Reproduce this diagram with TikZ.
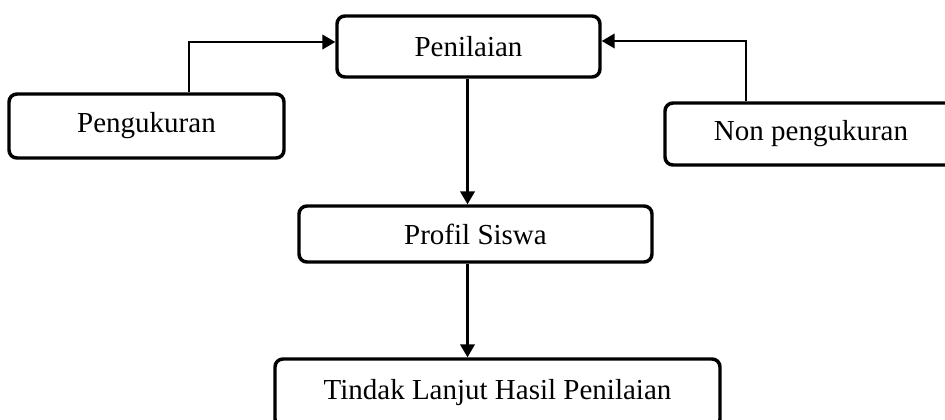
\documentclass[tikz,border=0pt]{standalone}
\usepackage{fontspec}
\setmainfont{Liberation Serif}
\usetikzlibrary{arrows.meta}
\begin{document}
\begin{tikzpicture}[x=0.75pt,y=-0.75pt,
  box/.style={draw=black, line width=2.6pt, rounded corners=6pt, fill=white,
    inner sep=0pt, font=\fontsize{21.75}{26}\selectfont},
  arr/.style={draw=black, line width=1.6pt,
    -{Triangle[length=9.75pt,width=11pt]}}]
\useasboundingbox (0,0) rectangle (945,419);
\clip (0,0) rectangle (945,419);
\fill[white] (0,0) rectangle (945,419);
\node[box, minimum width=263*0.75pt, minimum height=61*0.75pt] (pen) at (468.5,46.5) {Penilaian};
\node[box, minimum width=275*0.75pt, minimum height=64*0.75pt] (peng) at (146.5,126) {Pengukuran};
\node[box, minimum width=292*0.75pt, minimum height=62*0.75pt] (non) at (811,134) {Non pengukuran};
\node[box, minimum width=353*0.75pt, minimum height=56*0.75pt] (prof) at (475.5,234) {Profil Siswa};
\node[box, minimum width=445*0.75pt, minimum height=68*0.75pt] (tind) at (497.5,393) {Tindak Lanjut Hasil Penilaian};
\coordinate (cl) at (189,42);
\coordinate (cr) at (746,41);
\draw[arr] (peng.north -| cl) |- (pen.west |- cl);
\draw[arr] (non.north -| cr) |- (pen.east |- cr);
\draw[arr] (pen.south -| prof.north) ++(-8,0) coordinate (pb) (pb) -- (prof.north -| pb);
\draw[arr] (prof.south -| pb) -- (tind.north -| pb);
\end{tikzpicture}
\end{document}
